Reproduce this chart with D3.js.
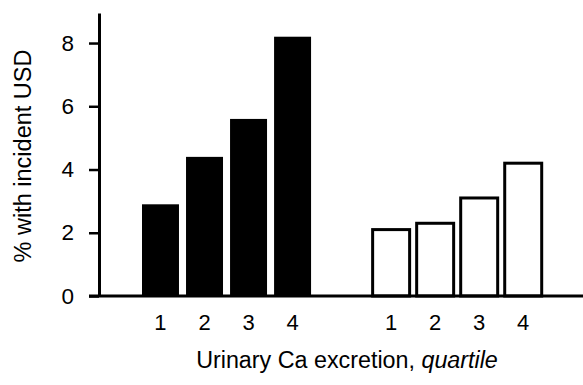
<!DOCTYPE html>
<html>
<head>
<meta charset="utf-8">
<script src="https://cdn.jsdelivr.net/npm/d3@7"></script>
<style>
  body { margin: 0; background: #fff; }
  text { font-family: "Liberation Sans", Arial, sans-serif; fill: #000; }
</style>
</head>
<body>
<div id="chart"></div>
<script>
const groups = ["A", "B"];
const quartiles = ["1", "2", "3", "4"];
const valuesA = [2.9, 4.4, 5.6, 8.2];
const valuesB = [2.1, 2.3, 3.1, 4.2];
const yTicks = [0, 2, 4, 6, 8];

const width = 583, height = 385;

const svg = d3.select("#chart")
  .append("svg")
  .attr("width", width)
  .attr("height", height);

const yScale = d3.scaleLinear().domain([0, 8.95]).range([296, 13]);

const groupScale = d3.scaleBand()
  .domain(groups)
  .range([142, 541.7])
  .paddingInner(0.267)
  .paddingOuter(0);

const xScale = d3.scaleBand()
  .domain(quartiles)
  .range([0, groupScale.bandwidth()])
  .paddingInner(0.16)
  .paddingOuter(0);

const data = [];
groups.forEach((g, gi) => {
  const vals = gi === 0 ? valuesA : valuesB;
  quartiles.forEach((q, qi) => data.push({group: g, q: q, v: vals[qi]}));
});

// bars
svg.selectAll("rect.bar")
  .data(data)
  .join("rect")
  .attr("class", "bar")
  .attr("x", d => groupScale(d.group) + xScale(d.q))
  .attr("y", d => yScale(d.v))
  .attr("width", xScale.bandwidth())
  .attr("height", d => yScale(0) - yScale(d.v))
  .attr("fill", d => d.group === "A" ? "#000" : "#fff")
  .attr("stroke", "#000")
  .attr("stroke-width", d => d.group === "A" ? 0 : 3);

// y axis
const yAxis = d3.axisLeft(yScale)
  .tickValues(yTicks)
  .tickSize(10)
  .tickSizeOuter(0)
  .tickPadding(15);

const yg = svg.append("g")
  .attr("transform", "translate(99,0)")
  .call(yAxis);
yg.select(".domain").attr("stroke-width", 3);
yg.selectAll(".tick line").attr("stroke-width", 2.5);
yg.selectAll(".tick text")
  .style("font-size", "22.5px")
  .attr("fill", "#000");

// baseline
svg.append("line")
  .attr("x1", 89)
  .attr("x2", width)
  .attr("y1", yScale(0))
  .attr("y2", yScale(0))
  .attr("stroke", "#000")
  .attr("stroke-width", 3);

// x tick labels
svg.selectAll("text.xlab")
  .data(data)
  .join("text")
  .attr("class", "xlab")
  .attr("x", d => groupScale(d.group) + xScale(d.q) + xScale.bandwidth() / 2)
  .attr("y", 330)
  .attr("text-anchor", "middle")
  .style("font-size", "22px")
  .text(d => d.q);

// axis titles
const xt = svg.append("text")
  .attr("x", 347)
  .attr("y", 368)
  .attr("text-anchor", "middle")
  .style("font-size", "23.3px");
xt.append("tspan").text("Urinary Ca excretion, ");
xt.append("tspan").style("font-style", "italic").text("quartile");

svg.append("text")
  .attr("transform", "translate(31,156) rotate(-90)")
  .attr("text-anchor", "middle")
  .style("font-size", "23.5px")
  .text("% with incident USD");
</script>
</body>
</html>
